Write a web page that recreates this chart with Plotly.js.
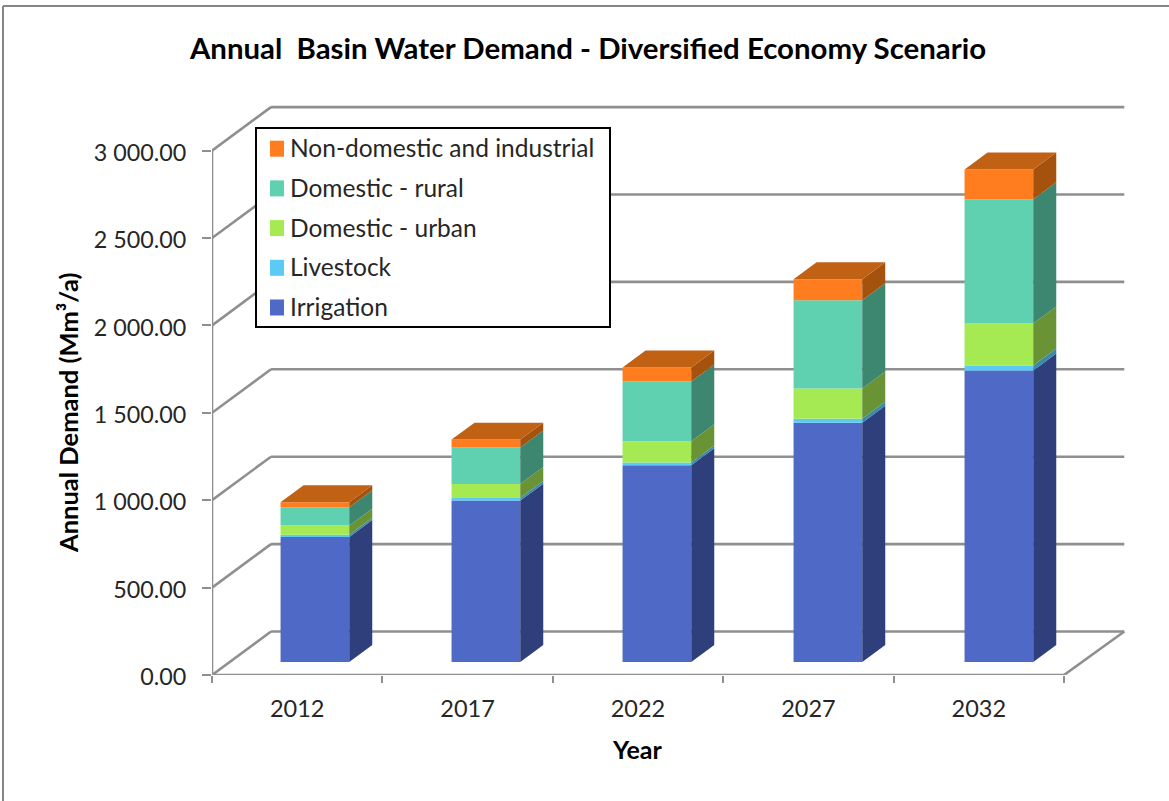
<!DOCTYPE html>
<html>
<head>
<meta charset="utf-8">
<script src="https://cdn.plot.ly/plotly-3.0.1.min.js"></script>
<style>html,body{margin:0;padding:0;background:#fff;overflow:hidden}</style>
</head>
<body>
<div id="chart" style="width:1169px;height:801px"></div>
<script>
// Annual demand per scenario year, in Mm3/a
const years = ['2012', '2017', '2022', '2027', '2032'];
const irrigation = [715, 923, 1125, 1369, 1667];
const livestock = [12, 15, 16, 23, 29];
const domesticUrban = [53, 80, 122, 172, 240];
const domesticRural = [105, 209, 341, 505, 711];
const nonDomestic = [29, 45, 80, 120, 170];

const seriesNames = ['Irrigation', 'Livestock', 'Domestic - urban', 'Domestic - rural', 'Non-domestic and industrial'];
const frontColors = ['#4F69C6', '#5BCBF5', '#A5EA52', '#5FD0B0', '#FF7C1F'];
const sideColors = ['#2F3F7C', '#3A8AAE', '#6A9336', '#3D8670', '#A6520F'];
const topColor = '#C16114';

const yTicks = [0, 500, 1000, 1500, 2000, 2500, 3000];
const yTickLabels = ['0.00', '500.00', '1 000.00', '1 500.00', '2 000.00', '2 500.00', '3 000.00'];

// Oblique projection: how far the floor recedes, in axis units
const plotLeft = 212, plotRight = 1130, plotTop = 100, plotBottom = 675;
const pxPerCategory = 170.4, pxPerUnit = 87.4 / 500;
const depthX = 59 / pxPerCategory, depthY = 43.5 / pxPerUnit;
const barFront = 0.3, barBack = 0.69;           // bar position within the floor depth
const barPitch = 171 / pxPerCategory;
const barWidth = 68.7 / pxPerCategory;
const wallColor = '#8F8F8F', font = 'Lato, Carlito, sans-serif', ink = '#262626';

const series = [irrigation, livestock, domesticUrban, domesticRural, nonDomestic];
const stackBase = series.map(() => []);
years.forEach((_, i) => {
  let sum = 0;
  series.forEach((s, k) => { stackBase[k][i] = sum; sum += s[i]; });
});

const barCentre = i => i * barPitch + 0.5 + barFront * depthX;
const lift = d => d * depthY;

const traces = [];
series.forEach((values, k) => {
  traces.push({
    type: 'bar', name: seriesNames[k], x: years.map((_, i) => barCentre(i)), y: values,
    base: stackBase[k].map(b => b + lift(barFront)), width: barWidth,
    marker: {color: frontColors[k], line: {width: 0}},
    showlegend: false, hoverinfo: 'name+y'
  });
});

// Right-hand faces of each stacked segment
series.forEach((values, k) => {
  const xs = [], ys = [];
  years.forEach((_, i) => {
    const x0 = barCentre(i) + barWidth / 2, x1 = x0 + (barBack - barFront) * depthX;
    const b = stackBase[k][i] + lift(barFront), t = b + values[i], d = lift(barBack - barFront);
    xs.push(x0, x1, x1, x0, x0, null);
    ys.push(b, b + d, t + d, t, b, null);
  });
  traces.push({
    type: 'scatter', mode: 'lines', x: xs, y: ys, fill: 'toself', fillcolor: sideColors[k],
    line: {width: 0, color: sideColors[k]}, showlegend: false, hoverinfo: 'skip'
  });
});

// Top face of each full stack
{
  const xs = [], ys = [];
  years.forEach((_, i) => {
    const xl = barCentre(i) - barWidth / 2, xr = xl + barWidth, dx = (barBack - barFront) * depthX;
    const t = stackBase[4][i] + nonDomestic[i] + lift(barFront), d = lift(barBack - barFront);
    xs.push(xl, xr, xr + dx, xl + dx, xl, null);
    ys.push(t, t, t + d, t + d, t, null);
  });
  traces.push({
    type: 'scatter', mode: 'lines', x: xs, y: ys, fill: 'toself', fillcolor: topColor,
    line: {width: 0, color: topColor}, showlegend: false, hoverinfo: 'skip'
  });
}

const xEnd = years.length;
const backEnd = xEnd + depthX + 1.3 / pxPerCategory;
const wall = (x0, y0, x1, y1) => ({
  type: 'line', xref: 'x', yref: 'y', x0, y0, x1, y1, layer: 'below',
  line: {color: wallColor, width: 2.6}
});
const shapes = [];
yTicks.forEach(v => {
  shapes.push(wall(0, v, depthX, v + depthY));
  shapes.push(wall(depthX, v + depthY, backEnd, v + depthY));
});
shapes.push(wall(0, 0, 0, yTicks[yTicks.length - 1]));
shapes.push(wall(0, 0, xEnd, 0));
shapes.push(wall(xEnd, 0, backEnd, depthY));

// Pixel helpers for items placed on the page rather than on the axes
const plotW = plotRight - plotLeft, plotH = plotBottom - plotTop;
const paperX = px => (px - plotLeft) / plotW, paperY = py => (plotBottom - py) / plotH;

// Chart-area frame, visible along the top and left edges
const frame = (x0, y0, x1, y1) => ({
  type: 'line', xref: 'paper', yref: 'paper', x0: paperX(x0), y0: paperY(y0), x1: paperX(x1), y1: paperY(y1),
  layer: 'below', line: {color: '#868686', width: 2}
});
shapes.push(frame(3, 6, 3, 801), frame(3, 6, 1169, 6));

// Legend box with one row per series, last series first
const pageRect = (x0, y0, x1, y1, fill, line) => ({
  type: 'rect', xref: 'paper', yref: 'paper', x0: paperX(x0), y0: paperY(y0), x1: paperX(x1), y1: paperY(y1),
  layer: 'above', fillcolor: fill, line
});
shapes.push(pageRect(256, 128, 610, 327, '#fff', {color: '#000', width: 2}));
const legendRows = seriesNames.map((name, k) => ({name, color: frontColors[k]})).reverse();
const rowY = r => 148.7 + 39.7 * r;
const annotations = [];
legendRows.forEach((row, r) => {
  shapes.push(pageRect(270, rowY(r) - 8, 284, rowY(r) + 8, row.color, {width: 0}));
  annotations.push({
    text: row.name, xref: 'paper', yref: 'paper', x: paperX(289), y: paperY(rowY(r) - 1),
    xanchor: 'left', yanchor: 'middle', showarrow: false, borderpad: 0,
    font: {family: font, size: 24.5, color: ink}
  });
});

annotations.push(
  {text: 'Annual Demand (Mm³/a)', xref: 'paper', yref: 'paper', x: paperX(68), y: paperY(413), xanchor: 'center', yanchor: 'middle', textangle: -90, showarrow: false, font: {family: font, size: 25.5, color: '#000', weight: 700}},
  {text: 'Year', xref: 'paper', yref: 'paper', x: paperX(637), y: paperY(749), xanchor: 'center', yanchor: 'middle', showarrow: false, font: {family: font, size: 25, color: '#000', weight: 700}}
);

const layout = {
  width: 1169, height: 801, autosize: false,
  margin: {l: plotLeft, r: 1169 - plotRight, t: plotTop, b: 801 - plotBottom, pad: 0},
  paper_bgcolor: '#fff', plot_bgcolor: 'rgba(0,0,0,0)',
  barmode: 'overlay', showlegend: false,
  title: {
    text: 'Annual\u00a0 Basin Water Demand - Diversified Economy Scenario',
    font: {family: font, size: 29.4, color: '#000', weight: 700},
    x: 588 / 1169, xanchor: 'center', xref: 'container', y: 1 - 49 / 801, yanchor: 'middle', yref: 'container'
  },
  xaxis: {
    range: [0, plotW / pxPerCategory], showgrid: false, zeroline: false, showline: false,
    tickmode: 'array', tickvals: years.map((_, i) => i + 0.5), ticktext: years, ticks: '',
    ticklabelstandoff: 17, tickfont: {family: font, size: 23.5, color: ink},
    minor: {tickmode: 'array', tickvals: years.map((_, i) => i).concat([xEnd]), ticks: 'outside', ticklen: 7, tickwidth: 2.4, tickcolor: wallColor, showgrid: false}
  },
  yaxis: {
    range: [0, plotH / pxPerUnit], showgrid: false, zeroline: false, showline: false,
    tickmode: 'array', tickvals: yTicks, ticktext: yTickLabels,
    ticks: 'outside', ticklen: 9, tickwidth: 2.4, tickcolor: wallColor,
    ticklabelstandoff: 11, ticklabelshift: 2, tickfont: {family: font, size: 23.3, color: ink}
  },
  shapes,
  annotations
};

Plotly.newPlot('chart', traces, layout, {displayModeBar: false});
</script>
</body>
</html>
